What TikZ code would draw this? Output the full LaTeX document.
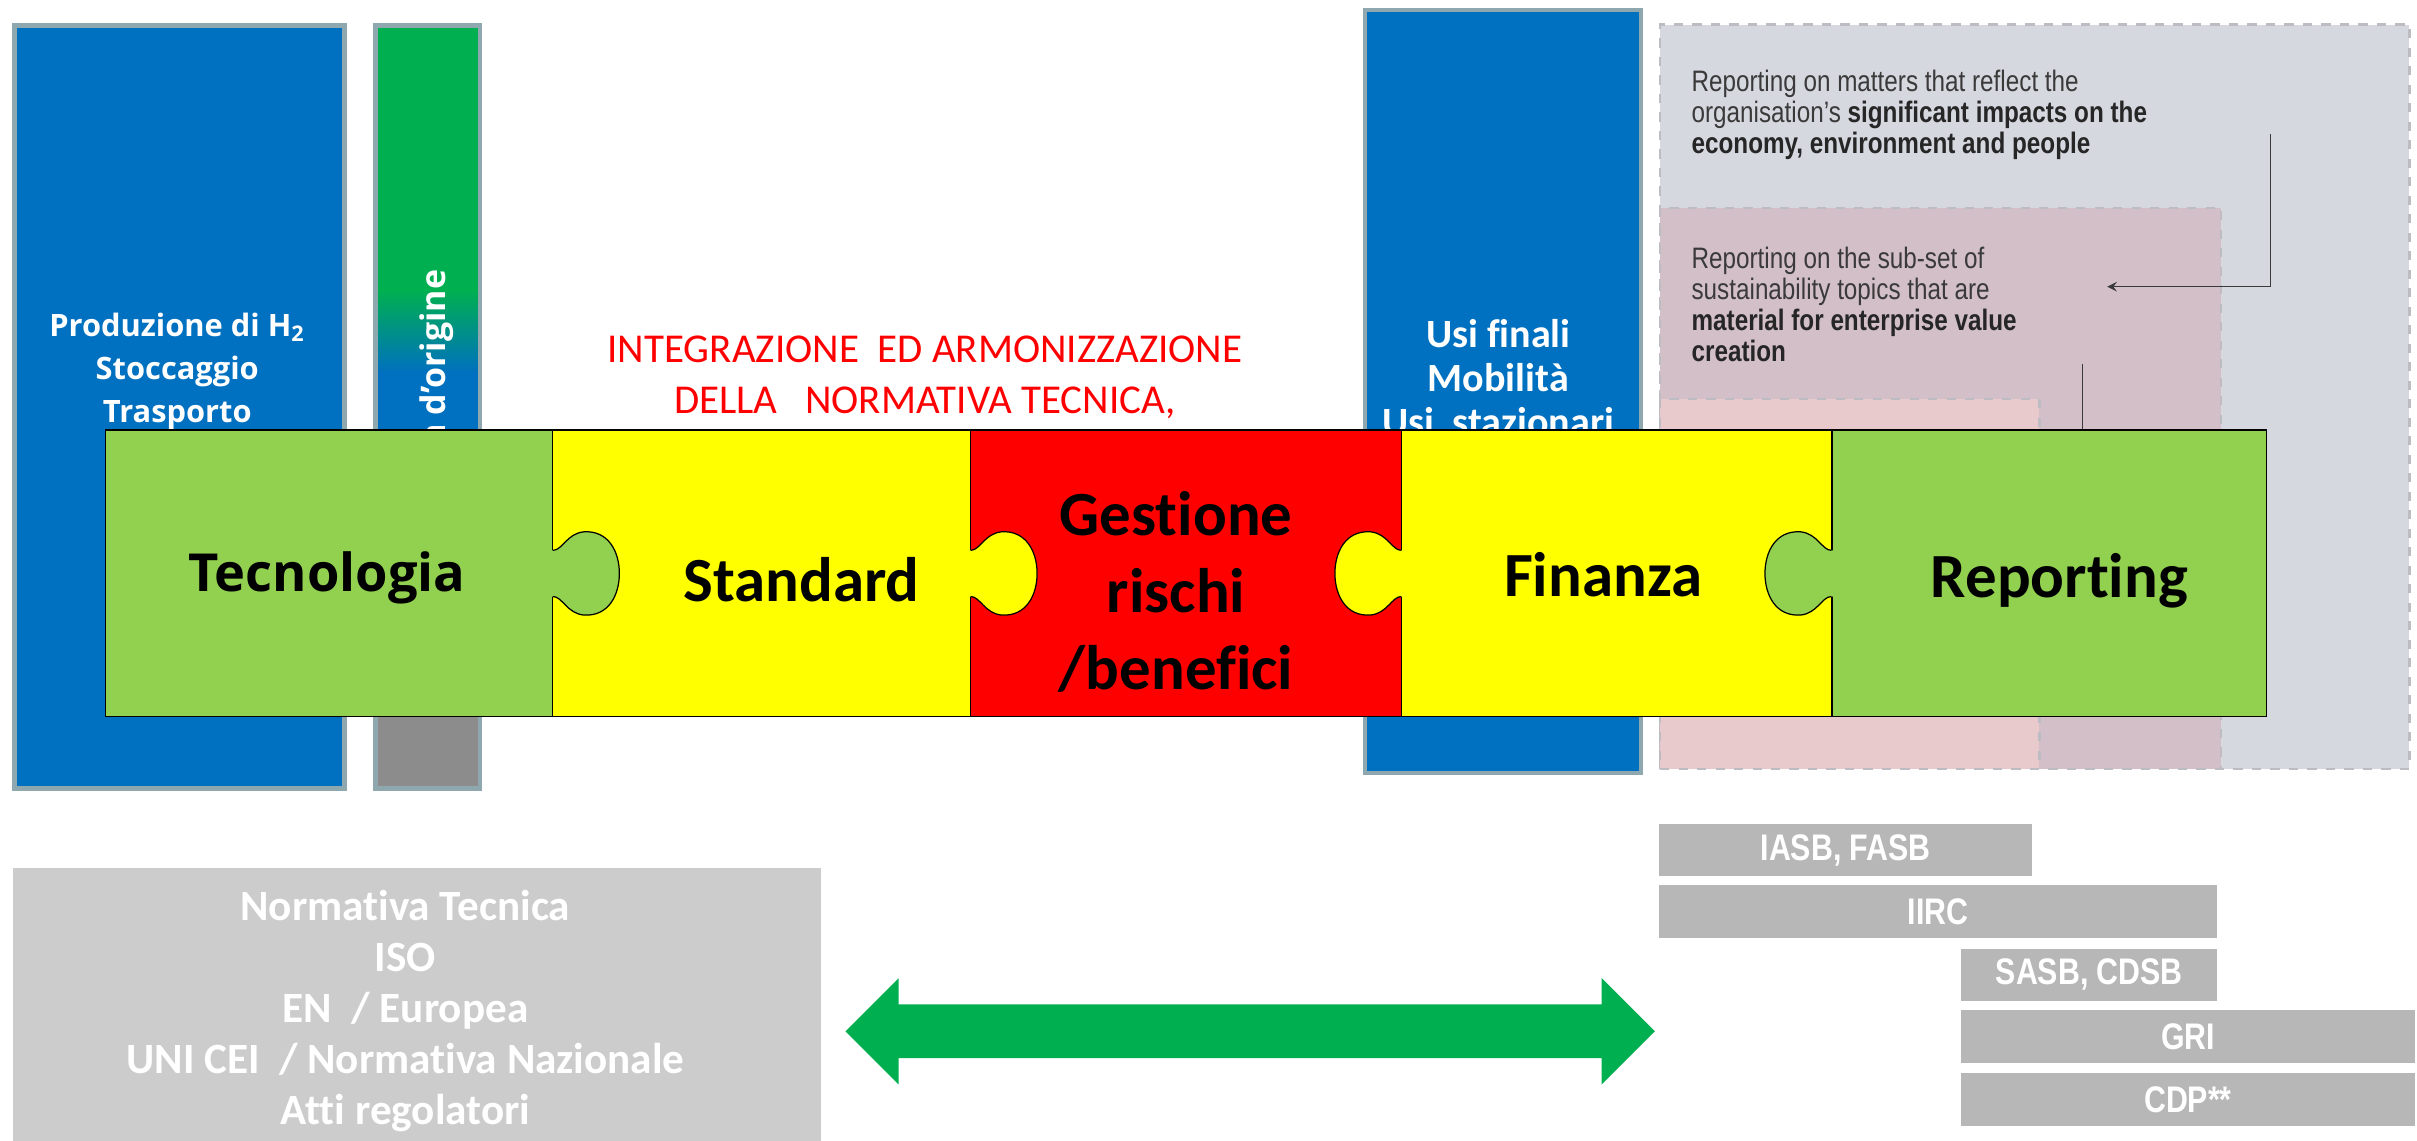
\documentclass[tikz,border=0pt]{standalone}
\usepackage{fontspec}
\setmainfont[Ligatures=NoCommon]{Carlito}
\newfontfamily\wideface{Open Sans}
\newfontfamily\narrowface[FakeStretch=0.82]{Liberation Sans}
\usetikzlibrary{shapes.arrows}

\definecolor{boxblue}{HTML}{0070C0}
\definecolor{boxedge}{HTML}{8FA8AF}
\definecolor{bargreen}{HTML}{00B050}
\definecolor{bargray}{HTML}{8C8C8C}
\definecolor{puzgreen}{HTML}{92D050}
\definecolor{puzyellow}{HTML}{FFFF00}
\definecolor{puzred}{HTML}{FF0000}
\definecolor{normgray}{HTML}{CCCCCC}
\definecolor{stdgray}{HTML}{B7B7B7}
\definecolor{repouter}{HTML}{D6D8E0}
\definecolor{repmiddle}{HTML}{D3BFC8}
\definecolor{repinner}{HTML}{E8CACC}
\definecolor{repedge}{HTML}{BCBCC2}
\definecolor{reptext}{HTML}{3A3A3A}

\tikzset{
  tall/.style={fill=boxblue, draw=boxedge, line width=1.5pt, anchor=north west, inner sep=0pt},
  piece/.style={draw, thin, minimum height=93pt, inner sep=0pt, anchor=west},
  piecelabel/.style={font=\bfseries\fontsize{20.4}{25}\selectfont, align=center},
  whitetext/.style={text=white, align=center},
  repbox/.style={draw=repedge, dashed, line width=0.9pt, anchor=north west, inner sep=0pt},
  reptxt/.style={text=reptext, align=left, anchor=north west, inner sep=0pt,
    font=\narrowface\fontsize{9.6}{10}\selectfont},
  stdbar/.style={fill=stdgray, minimum height=17pt, anchor=north west, inner sep=0pt,
    text=white, font=\narrowface\bfseries\fontsize{12}{12}\selectfont}
}

% puzzle tab: anchor point, direction (1 right, -1 left), colour
\newcommand{\puzzletab}[3]{%
  \begin{scope}[shift={#1},xscale=#2]
    \fill[#3] (-3,-15) -- (0,-15) .. controls (6,-15) and (9,-26) .. (20,-27)
      .. controls (36,-28) and (43,-14) .. (43,0) .. controls (43,14) and (36,28) .. (20,27)
      .. controls (9,26) and (6,15) .. (0,15) -- (-3,15) -- cycle;
    \draw[thin] (0,-15) .. controls (6,-15) and (9,-26) .. (20,-27)
      .. controls (36,-28) and (43,-14) .. (43,0) .. controls (43,14) and (36,28) .. (20,27)
      .. controls (9,26) and (6,15) .. (0,15);
  \end{scope}}

\begin{document}
\begin{tikzpicture}[x=0.5pt,y=-0.5pt,>=stealth]
\useasboundingbox (0,0) rectangle (1568,740);

% columns behind the puzzle
\node[tall, minimum width=107pt, minimum height=247.5pt] (prod) at (8,15) {};
\node[whitetext, font=\wideface\bfseries\fontsize{10}{14}\selectfont] (prodtxt) at (115,241)
  {Produzione di H\textsubscript{2}\\Stoccaggio\\Trasporto};

\fill[bargreen] (242,15) rectangle (310,190);
\shade[top color=bargreen, bottom color=boxblue] (242,188) rectangle (310,242);
\fill[boxblue] (242,241) rectangle (310,300);
\fill[bargray] (242,440) rectangle (310,510);
\node[draw=boxedge, line width=1.5pt, minimum width=34pt, minimum height=247.5pt,
  anchor=north west, inner sep=0pt] (garanzia) at (242,15) {};
\node[whitetext, font=\wideface\bfseries\fontsize{11}{13}\selectfont, rotate=90, anchor=east]
  (origine) at (283,168) {a d’origine};

\node[tall, minimum width=89.5pt, minimum height=247.5pt] (usi) at (884,5) {};
\node[whitetext, font=\bfseries\fontsize{13}{14.3}\selectfont] (usitxt) at (972,245)
  {Usi finali\\Mobilità\\Usi\ \ stazionari};

\node[repbox, fill=repouter, minimum width=243pt, minimum height=241.5pt] (impact) at (1076,15) {};
\node[repbox, fill=repmiddle, minimum width=182pt, minimum height=182pt] (material) at (1076,134) {};
\node[repbox, fill=repinner, minimum width=123pt, minimum height=120pt] (financial) at (1076,258) {};
\node[reptxt] (impacttxt) at (1097,45) {Reporting on matters that reflect the\\
  organisation’s \textbf{\color{black!85}significant impacts on the}\\
  \textbf{\color{black!85}economy, environment and people}};
\node[reptxt] (materialtxt) at (1097,160) {Reporting on the sub-set of\\
  sustainability topics that are\\
  \textbf{\color{black!85}material for enterprise value}\\
  \textbf{\color{black!85}creation}};
\coordinate (down1) at (1473,87);
\coordinate (down2) at (1351,236);
\draw[->, reptext, thin] (down1) |- (1367,186);
\draw[reptext, thin] (down2) -- (1351,300);

\node[text=puzred, align=center, font=\fontsize{13.3}{16.5}\selectfont] (integ) at (600,245)
  {INTEGRAZIONE\ \ ED ARMONIZZAZIONE\\DELLA\ \ \ NORMATIVA TECNICA,};

% puzzle
\node[piece, fill=puzgreen, minimum width=145pt] (tec) at (68,372) {};
\node[piece, fill=puzyellow, minimum width=135.5pt] (std) at (358,372) {};
\node[piece, fill=puzred, minimum width=140pt] (ges) at (629,372) {};
\node[piece, fill=puzyellow, minimum width=139.5pt] (fin) at (909,372) {};
\node[piece, fill=puzgreen, minimum width=141pt] (rep) at (1188,372) {};

\puzzletab{(tec.east)}{1}{puzgreen}
\puzzletab{(std.east)}{1}{puzyellow}
\puzzletab{(fin.west)}{-1}{puzyellow}
\puzzletab{(rep.west)}{-1}{puzgreen}

\node[font=\wideface\bfseries\fontsize{17}{20}\selectfont] (teclbl) at (212,375) {Tecnologia};
\node[piecelabel] (stdlbl) at (520,376) {Standard};
\node[piecelabel] (geslbl) at (763,384) {Gestione\\rischi\\/benefici};
\node[piecelabel] (finlbl) at (1040,373) {Finanza};
\node[piecelabel] (replbl) at (1336,377) {Reporting};

% bottom row
\node[fill=normgray, minimum width=262pt, minimum height=88.5pt, anchor=north west,
  inner sep=0pt] (norm) at (8,563) {};
\node[whitetext, font=\bfseries\fontsize{14}{16.5}\selectfont] (normtxt) at (263,656)
  {Normativa Tecnica\\ISO\\EN\ \ / Europea\\UNI CEI\ \ / Normativa Nazionale\\Atti regolatori};

\node[double arrow, fill=bargreen, minimum height=262.5pt, inner sep=8.5pt,
  double arrow head extend=8.5pt] (link) at (811,669) {};

\node[stdbar, minimum width=121pt] (iasb) at (1076,534) {IASB, FASB};
\node[stdbar, minimum width=181pt] (iirc) at (1076,574) {IIRC};
\node[stdbar, minimum width=83pt] (sasb) at (1272,615) {SASB, CDSB};
\node[stdbar, minimum width=147pt] (gri) at (1272,655) {GRI};
\node[stdbar, minimum width=147pt] (cdp) at (1272,696) {CDP**};
\end{tikzpicture}
\end{document}
